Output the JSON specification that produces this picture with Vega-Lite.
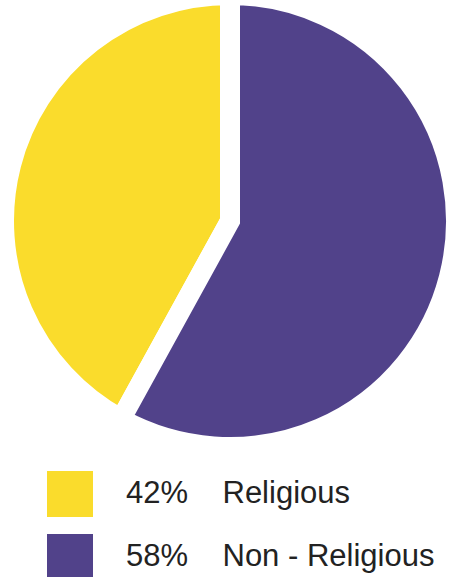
{
  "$schema": "https://vega.github.io/schema/vega-lite/v6.json",
  "width": 460,
  "height": 442,
  "autosize": {"type": "none"},
  "padding": {"left": 0, "top": 0, "right": 0, "bottom": 135},
  "background": "white",
  "data": {
    "values": [
      {"category": "Religious", "label": "42%\u00a0\u00a0\u00a0\u00a0Religious", "value": 42, "order": 2},
      {"category": "Non - Religious", "label": "58%\u00a0\u00a0\u00a0\u00a0Non - Religious", "value": 58, "order": 1}
    ]
  },
  "mark": {"type": "arc", "outerRadius": 226, "stroke": "white", "strokeWidth": 20, "strokeJoin": "miter"},
  "encoding": {
    "theta": {"field": "value", "type": "quantitative", "stack": true},
    "order": {"field": "order", "type": "quantitative"},
    "color": {
      "field": "label",
      "type": "nominal",
      "scale": {
        "domain": ["42%\u00a0\u00a0\u00a0\u00a0Religious", "58%\u00a0\u00a0\u00a0\u00a0Non - Religious"],
        "range": ["#FADC2C", "#51428A"]
      },
      "legend": {
        "title": null,
        "orient": "none",
        "legendX": 47,
        "legendY": 471,
        "padding": 0,
        "symbolType": "square",
        "symbolSize": 2116,
        "symbolStrokeWidth": 0,
        "symbolOpacity": 1,
        "labelFontSize": 31,
        "labelFont": "Liberation Sans",
        "labelColor": "#222222",
        "labelOffset": 33,
        "labelLimit": 400,
        "rowPadding": 17
      }
    }
  },
  "config": {"view": {"stroke": null}}
}
